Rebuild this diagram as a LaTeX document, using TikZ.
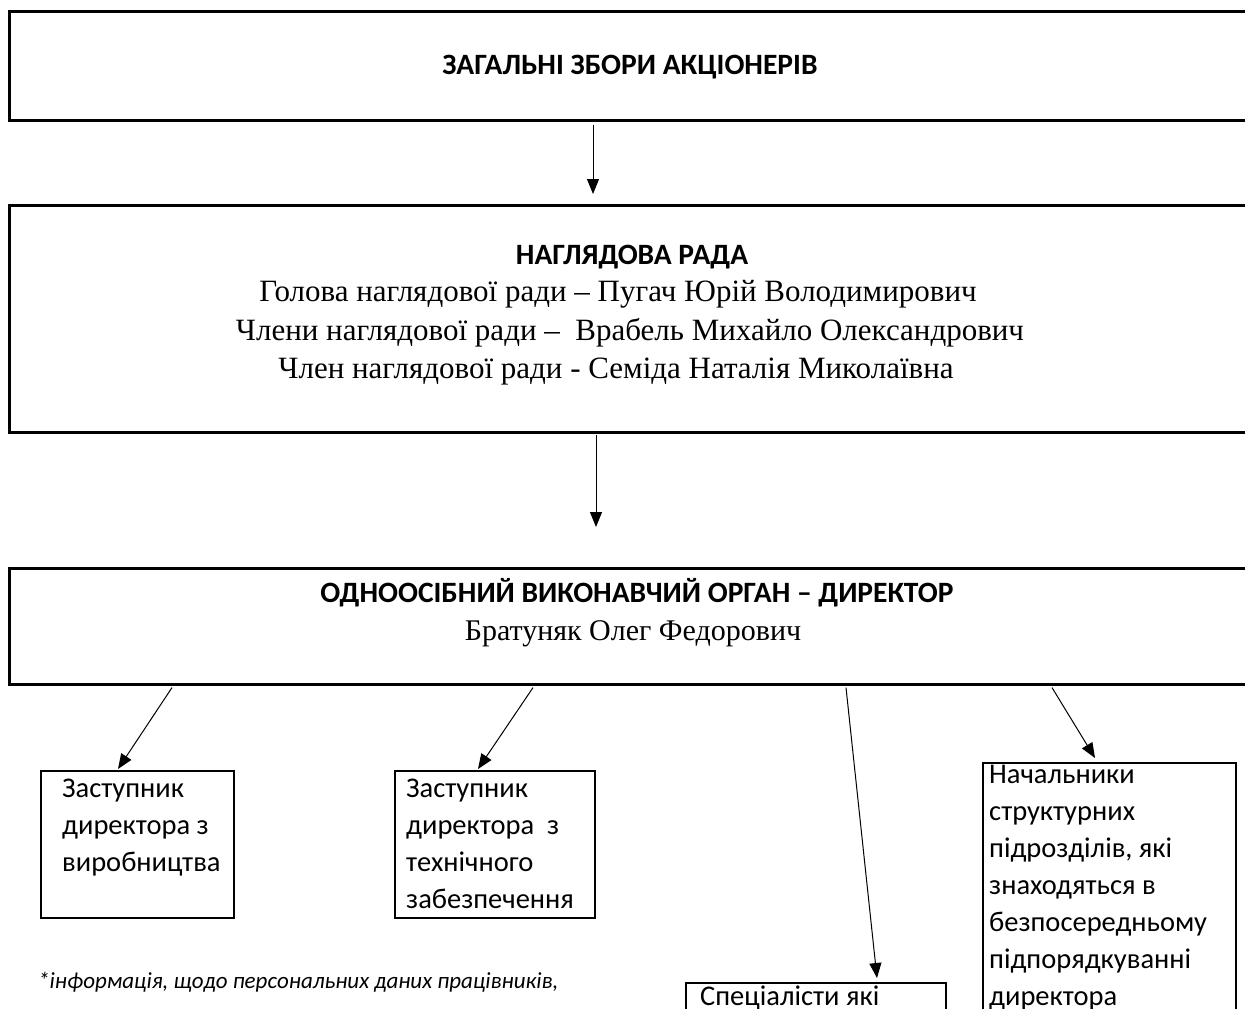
\documentclass[tikz,border=0pt]{standalone}
\usepackage{fontspec}
\setmainfont{Carlito}
\newfontfamily\tnr{Liberation Serif}
\usetikzlibrary{arrows.meta,calc}
\begin{document}
\begin{tikzpicture}[x=1pt,y=-1pt,
  bigbox/.style={draw, line width=2.6pt, anchor=north west, minimum width=1262pt, inner sep=0pt},
  smallbox/.style={draw, line width=2pt, anchor=north west, inner sep=0pt},
  arr/.style={line width=1pt, -{Triangle[length=15pt,width=12pt]}},
  title/.style={inner sep=0pt, font=\fontsize{29.5}{34}\selectfont\bfseries},
  serifline/.style={inner sep=0pt, font=\tnr\fontsize{31}{36}\selectfont},
  body/.style={anchor=north west, align=left, inner sep=0pt, font=\fontsize{28.5}{37}\selectfont},
]
\useasboundingbox (0,0) rectangle (1245,1009);
\fill[white] (0,0) rectangle (1245,1009);

% top level
\node[bigbox, minimum height=109pt] (gm) at (8,10) {};
\node[title] (gmt) at (630,67) {ЗАГАЛЬНІ ЗБОРИ АКЦІОНЕРІВ};

% supervisory board
\node[bigbox, minimum height=227pt] (nr) at (8,204) {};
\node[title] (nrt) at (632,257) {НАГЛЯДОВА РАДА};
\node[serifline] (nr1) at (618,294) {Голова наглядової ради – Пугач Юрій Володимирович};
\node[serifline] (nr2) at (630,333) {Члени наглядової ради –\ \ Врабель Михайло Олександрович};
\node[serifline] (nr3) at (616,372) {Член наглядової ради - Семіда Наталія Миколаївна};

% director
\node[bigbox, minimum height=116pt] (dir) at (8,567) {};
\node[title] (dirt) at (637,593) {ОДНООСІБНИЙ ВИКОНАВЧИЙ ОРГАН – ДИРЕКТОР};
\node[serifline, font=\tnr\fontsize{30}{35}\selectfont] (dirn) at (633,634) {Братуняк Олег Федорович};

% subordinate boxes
\node[smallbox, minimum width=193pt, minimum height=147pt] (za) at (40,770) {};
\node[body] (zat) at (62,779) {Заступник\\директора з\\виробництва};

\node[smallbox, minimum width=200pt, minimum height=147pt] (zb) at (394,770) {};
\node[body] (zbt) at (406,779) {Заступник\\директора\ \ з\\технічного\\забезпечення};

\node[smallbox, minimum width=260pt, minimum height=80pt] (sp) at (685,982) {};
\node[body] (spt) at (700,986) {Спеціалісти які};

\node[smallbox, minimum width=253pt, minimum height=300pt] (nach) at (982,762) {};
\node[body] (nacht) at (989,765) {Начальники\\структурних\\підрозділів, які\\знаходяться в\\безпосередньому\\підпорядкуванні\\директора};

% footnote
\node[anchor=west, inner sep=0pt, font=\itshape\fontsize{23}{27}\selectfont] (fn) at (38,982) {*інформація, щодо персональних даних працівників,};

% connectors
\draw[arr] ($(gm.south west)+(585,3)$) -- ($(nr.north west)+(585,-10)$);
\draw[arr] ($(nr.south west)+(588,1)$) -- ($(dir.north west)+(588,-40)$);
\draw[arr] ($(dir.south west)+(164,2)$) -- ($(za.north west)+(78,-1)$);
\draw[arr] ($(dir.south west)+(525,2)$) -- ($(zb.north west)+(84,-1)$);
\draw[arr] ($(dir.south west)+(838,2)$) -- ($(sp.north west)+(192,-4)$);
\draw[arr] ($(dir.south west)+(1044,2)$) -- ($(nach.north west)+(113,-4)$);
\end{tikzpicture}
\end{document}
